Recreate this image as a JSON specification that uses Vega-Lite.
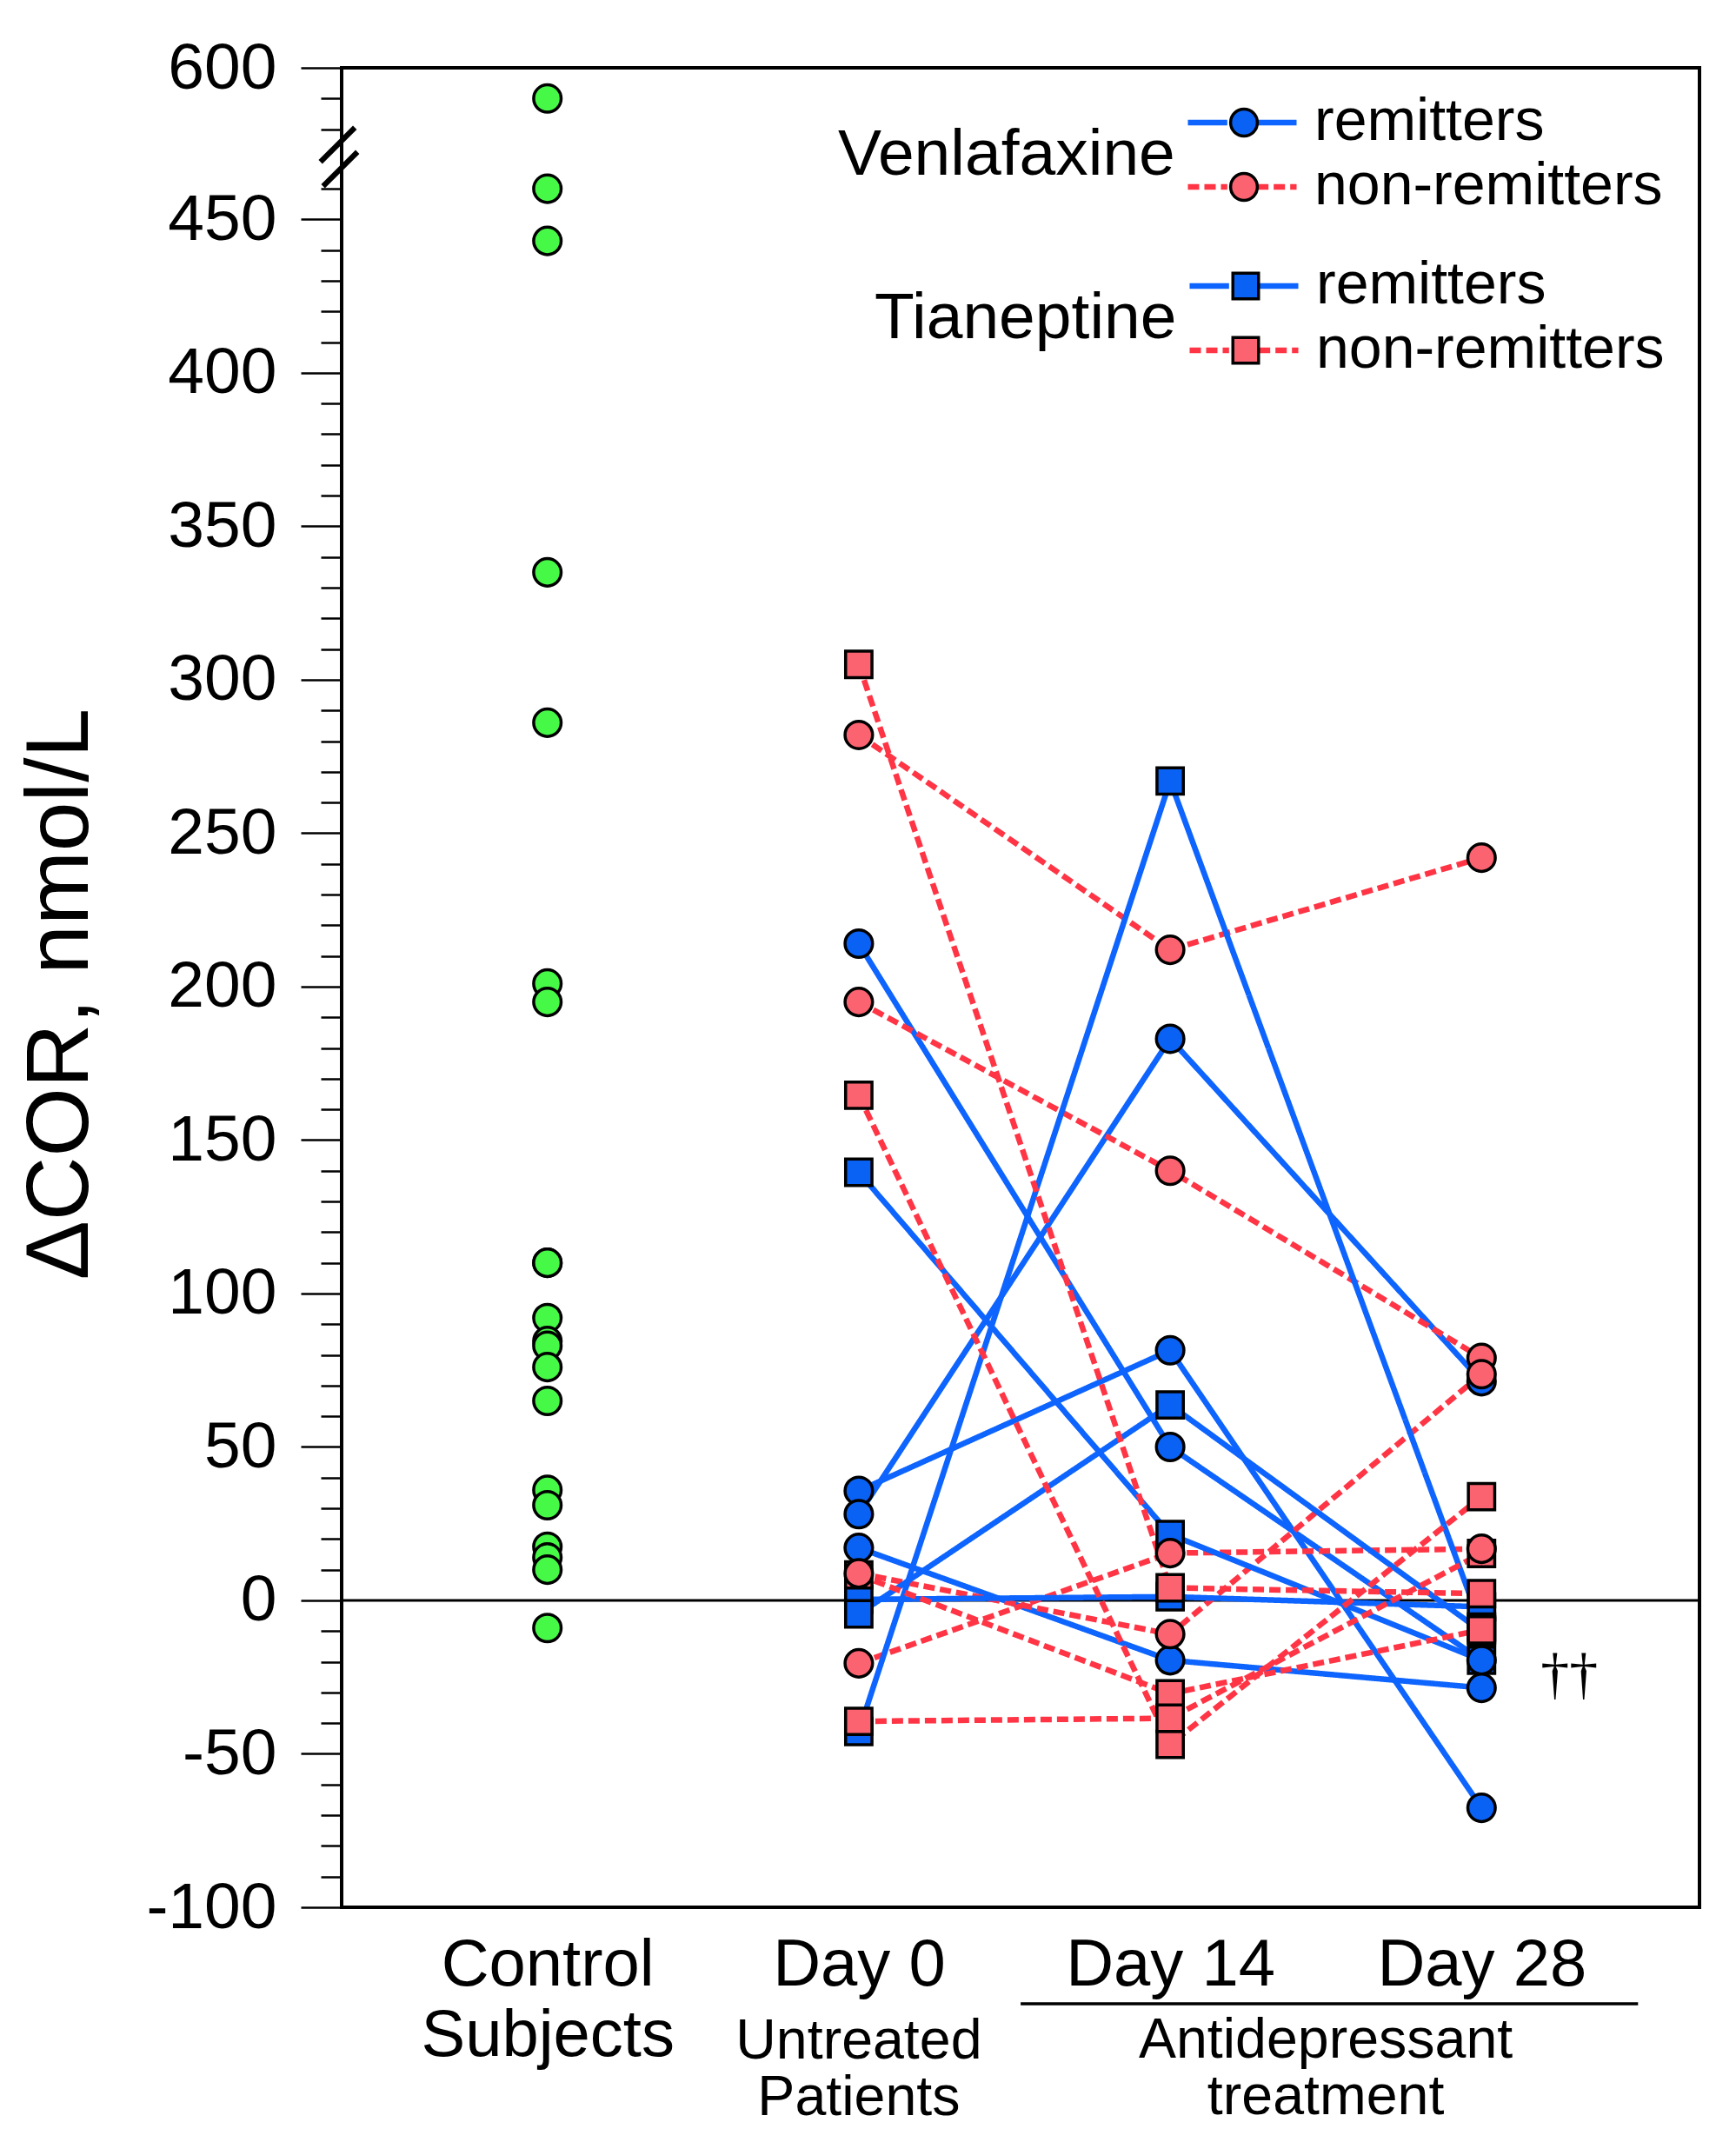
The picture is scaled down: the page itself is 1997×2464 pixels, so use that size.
{
  "$schema": "https://vega.github.io/schema/vega-lite/v6.json",
  "autosize": {"type": "none"},
  "width": 1562,
  "height": 2116,
  "padding": {"left": 393, "top": 78, "right": 42, "bottom": 270},
  "background": "white",
  "datasets": {
    "control": [
      {"visit": "Control Subjects", "value": 590},
      {"visit": "Control Subjects", "value": 460},
      {"visit": "Control Subjects", "value": 443},
      {"visit": "Control Subjects", "value": 335},
      {"visit": "Control Subjects", "value": 286},
      {"visit": "Control Subjects", "value": 201},
      {"visit": "Control Subjects", "value": 195},
      {"visit": "Control Subjects", "value": 110},
      {"visit": "Control Subjects", "value": 110},
      {"visit": "Control Subjects", "value": 92},
      {"visit": "Control Subjects", "value": 84.5},
      {"visit": "Control Subjects", "value": 83},
      {"visit": "Control Subjects", "value": 76},
      {"visit": "Control Subjects", "value": 65},
      {"visit": "Control Subjects", "value": 36},
      {"visit": "Control Subjects", "value": 31},
      {"visit": "Control Subjects", "value": 17.5},
      {"visit": "Control Subjects", "value": 14},
      {"visit": "Control Subjects", "value": 10},
      {"visit": "Control Subjects", "value": -9}
    ],
    "patients": [
      {"subject": "V-R1", "drug": "Venlafaxine", "status": "remitters", "visit": "Day 0", "value": 214},
      {"subject": "V-R1", "drug": "Venlafaxine", "status": "remitters", "visit": "Day 14", "value": 50},
      {"subject": "V-R1", "drug": "Venlafaxine", "status": "remitters", "visit": "Day 28", "value": -19.5},
      {"subject": "V-R2", "drug": "Venlafaxine", "status": "remitters", "visit": "Day 0", "value": 35.7},
      {"subject": "V-R2", "drug": "Venlafaxine", "status": "remitters", "visit": "Day 14", "value": 81.5},
      {"subject": "V-R2", "drug": "Venlafaxine", "status": "remitters", "visit": "Day 28", "value": -67.6},
      {"subject": "V-R3", "drug": "Venlafaxine", "status": "remitters", "visit": "Day 0", "value": 28.1},
      {"subject": "V-R3", "drug": "Venlafaxine", "status": "remitters", "visit": "Day 14", "value": 183},
      {"subject": "V-R3", "drug": "Venlafaxine", "status": "remitters", "visit": "Day 28", "value": 71.4},
      {"subject": "V-R4", "drug": "Venlafaxine", "status": "remitters", "visit": "Day 0", "value": 17.1},
      {"subject": "V-R4", "drug": "Venlafaxine", "status": "remitters", "visit": "Day 14", "value": -19.5},
      {"subject": "V-R4", "drug": "Venlafaxine", "status": "remitters", "visit": "Day 28", "value": -28.5},
      {"subject": "V-N1", "drug": "Venlafaxine", "status": "non-remitters", "visit": "Day 0", "value": 282},
      {"subject": "V-N1", "drug": "Venlafaxine", "status": "non-remitters", "visit": "Day 14", "value": 212},
      {"subject": "V-N1", "drug": "Venlafaxine", "status": "non-remitters", "visit": "Day 28", "value": 242},
      {"subject": "V-N2", "drug": "Venlafaxine", "status": "non-remitters", "visit": "Day 0", "value": 195},
      {"subject": "V-N2", "drug": "Venlafaxine", "status": "non-remitters", "visit": "Day 14", "value": 140},
      {"subject": "V-N2", "drug": "Venlafaxine", "status": "non-remitters", "visit": "Day 28", "value": 79},
      {"subject": "V-N3", "drug": "Venlafaxine", "status": "non-remitters", "visit": "Day 0", "value": -20.5},
      {"subject": "V-N3", "drug": "Venlafaxine", "status": "non-remitters", "visit": "Day 14", "value": 15.4},
      {"subject": "V-N3", "drug": "Venlafaxine", "status": "non-remitters", "visit": "Day 28", "value": 16.8},
      {"subject": "V-N4", "drug": "Venlafaxine", "status": "non-remitters", "visit": "Day 0", "value": 8.8},
      {"subject": "V-N4", "drug": "Venlafaxine", "status": "non-remitters", "visit": "Day 14", "value": -11},
      {"subject": "V-N4", "drug": "Venlafaxine", "status": "non-remitters", "visit": "Day 28", "value": 73.7},
      {"subject": "T-R1", "drug": "Tianeptine", "status": "remitters", "visit": "Day 0", "value": 139.5},
      {"subject": "T-R1", "drug": "Tianeptine", "status": "remitters", "visit": "Day 14", "value": 21.5},
      {"subject": "T-R1", "drug": "Tianeptine", "status": "remitters", "visit": "Day 28", "value": -19.5},
      {"subject": "T-R2", "drug": "Tianeptine", "status": "remitters", "visit": "Day 0", "value": 0.3},
      {"subject": "T-R2", "drug": "Tianeptine", "status": "remitters", "visit": "Day 14", "value": 1.2},
      {"subject": "T-R2", "drug": "Tianeptine", "status": "remitters", "visit": "Day 28", "value": -2.1},
      {"subject": "T-R3", "drug": "Tianeptine", "status": "remitters", "visit": "Day 0", "value": -4.4},
      {"subject": "T-R3", "drug": "Tianeptine", "status": "remitters", "visit": "Day 14", "value": 63.7},
      {"subject": "T-R3", "drug": "Tianeptine", "status": "remitters", "visit": "Day 28", "value": -10.1},
      {"subject": "T-R4", "drug": "Tianeptine", "status": "remitters", "visit": "Day 0", "value": -42.7},
      {"subject": "T-R4", "drug": "Tianeptine", "status": "remitters", "visit": "Day 14", "value": 267},
      {"subject": "T-R4", "drug": "Tianeptine", "status": "remitters", "visit": "Day 28", "value": -8.7},
      {"subject": "T-N1", "drug": "Tianeptine", "status": "non-remitters", "visit": "Day 0", "value": 305},
      {"subject": "T-N1", "drug": "Tianeptine", "status": "non-remitters", "visit": "Day 14", "value": 4.1},
      {"subject": "T-N1", "drug": "Tianeptine", "status": "non-remitters", "visit": "Day 28", "value": 2.2},
      {"subject": "T-N2", "drug": "Tianeptine", "status": "non-remitters", "visit": "Day 0", "value": 164.6},
      {"subject": "T-N2", "drug": "Tianeptine", "status": "non-remitters", "visit": "Day 14", "value": -46.9},
      {"subject": "T-N2", "drug": "Tianeptine", "status": "non-remitters", "visit": "Day 28", "value": 33.8},
      {"subject": "T-N3", "drug": "Tianeptine", "status": "non-remitters", "visit": "Day 0", "value": 8.3},
      {"subject": "T-N3", "drug": "Tianeptine", "status": "non-remitters", "visit": "Day 14", "value": -30.4},
      {"subject": "T-N3", "drug": "Tianeptine", "status": "non-remitters", "visit": "Day 28", "value": -9.6},
      {"subject": "T-N4", "drug": "Tianeptine", "status": "non-remitters", "visit": "Day 0", "value": -39.4},
      {"subject": "T-N4", "drug": "Tianeptine", "status": "non-remitters", "visit": "Day 14", "value": -38.4},
      {"subject": "T-N4", "drug": "Tianeptine", "status": "non-remitters", "visit": "Day 28", "value": 15.3}
    ]
  },
  "layer": [
    {
      "data": {"name": "control"},
      "mark": {"type": "point", "shape": "circle", "filled": true, "fill": "#47f947", "stroke": "black", "strokeWidth": 3.5, "size": 1000, "opacity": 1},
      "encoding": {
        "x": {"field": "visit", "type": "nominal", "scale": {"type": "point", "domain": ["Control Subjects", "Day 0", "Day 14", "Day 28"], "range": [236.7, 1311.3], "padding": 0},
          "axis": {"title": null, "ticks": false, "tickSize": 0, "domain": false, "grid": false, "labelAngle": 0, "labelFontSize": 76, "labelFont": "Liberation Sans", "labelColor": "black", "labelPadding": 29, "labelBaseline": "top", "labelLineHeight": 81, "labelLimit": 2000, "labelOverlap": false, "labelExpr": "datum.value === 'Control Subjects' ? ['Control', 'Subjects'] : datum.label"}},
        "y": {"field": "value", "type": "quantitative", "scale": {"domain": [-100, 470.5, 571.1, 600], "range": [2116, 102, 102, 0], "nice": false, "zero": false},
          "axis": {
            "values": [-100, -90, -80, -70, -60, -50, -40, -30, -20, -10, 0, 10, 20, 30, 40, 50, 60, 70, 80, 90, 100, 110, 120, 130, 140, 150, 160, 170, 180, 190, 200, 210, 220, 230, 240, 250, 260, 270, 280, 290, 300, 310, 320, 330, 340, 350, 360, 370, 380, 390, 400, 410, 420, 430, 440, 450, 460, 580, 590, 600],
            "tickCount": 200,
            "labelExpr": "((datum.value % 50 === 0) && datum.value <= 450) || datum.value === 600 ? '' + datum.value : ''",
            "tickSize": {"condition": {"test": "datum.value % 50 === 0", "value": 47}, "value": 24},
            "tickWidth": 2.5, "tickColor": "black", "domain": false, "grid": false,
            "labelFontSize": 75, "labelFont": "Liberation Sans", "labelColor": "black", "labelPadding": 28, "labelFlush": false, "labelOverlap": false, "labelBound": false,
            "title": "ΔCOR, nmol/L", "titleFontSize": 102, "titleFont": "Liberation Sans", "titleFontWeight": "normal", "titleColor": "black",
            "titleX": -293, "titleY": 1065, "titleAngle": 270, "titleAlign": "center", "titleBaseline": "alphabetic"
          }}
      }
    },
    {
      "data": {"values": [{}]},
      "mark": {"type": "rule", "color": "black", "strokeWidth": 3},
      "encoding": {
        "y": {"datum": 0, "type": "quantitative", "scale": {"domain": [-100, 470.5, 571.1, 600], "range": [2116, 102, 102, 0], "nice": false, "zero": false}}
      }
    },
    {
      "data": {"name": "patients"},
      "transform": [{"filter": "datum.drug === 'Venlafaxine'"}],
      "mark": {"type": "line", "strokeWidth": 6.5, "strokeCap": "butt"},
      "encoding": {
        "x": {"field": "visit", "type": "nominal", "scale": {"type": "point", "domain": ["Control Subjects", "Day 0", "Day 14", "Day 28"], "range": [236.7, 1311.3], "padding": 0}},
        "y": {"field": "value", "type": "quantitative", "scale": {"domain": [-100, 470.5, 571.1, 600], "range": [2116, 102, 102, 0], "nice": false, "zero": false}},
        "detail": {"field": "subject"},
        "stroke": {"field": "status", "type": "nominal", "scale": {"domain": ["remitters", "non-remitters"], "range": ["#0d64ff", "#ff3545"]},
          "legend": {"title": "Venlafaxine", "orient": "none", "legendX": 571, "legendY": 29, "titleOrient": "left", "titleAnchor": "middle", "titleBaseline": "middle", "titleFontSize": 75, "titleFont": "Liberation Sans", "titleFontWeight": "normal", "titleColor": "black", "titlePadding": 43, "titleLimit": 0, "symbolType": "M-4,0H-1.1M1.1,0H4", "symbolSize": 977, "symbolStrokeWidth": 6.5, "labelFontSize": 68, "labelFont": "Liberation Sans", "labelColor": "black", "labelOffset": 49, "rowPadding": 6, "padding": 0, "labelLimit": 0}},
        "strokeDash": {"field": "status", "type": "nominal", "scale": {"domain": ["remitters", "non-remitters"], "range": [[1, 0], [13, 6]]},
          "legend": {"title": "Venlafaxine", "orient": "none", "legendX": 571, "legendY": 29, "titleOrient": "left", "titleAnchor": "middle", "titleBaseline": "middle", "titleFontSize": 75, "titleFont": "Liberation Sans", "titleFontWeight": "normal", "titleColor": "black", "titlePadding": 43, "titleLimit": 0, "symbolType": "M-4,0H-1.1M1.1,0H4", "symbolSize": 977, "symbolStrokeWidth": 6.5, "labelFontSize": 68, "labelFont": "Liberation Sans", "labelColor": "black", "labelOffset": 49, "rowPadding": 6, "padding": 0, "labelLimit": 0}}
      }
    },
    {
      "data": {"name": "patients"},
      "transform": [{"filter": "datum.drug === 'Tianeptine'"}],
      "mark": {"type": "line", "strokeWidth": 6.5, "strokeCap": "butt"},
      "encoding": {
        "x": {"field": "visit", "type": "nominal", "scale": {"type": "point", "domain": ["Control Subjects", "Day 0", "Day 14", "Day 28"], "range": [236.7, 1311.3], "padding": 0}},
        "y": {"field": "value", "type": "quantitative", "scale": {"domain": [-100, 470.5, 571.1, 600], "range": [2116, 102, 102, 0], "nice": false, "zero": false}},
        "detail": {"field": "subject"},
        "stroke": {"field": "status", "type": "nominal", "scale": {"domain": ["remitters", "non-remitters"], "range": ["#0d64ff", "#ff3545"]},
          "legend": {"title": "Tianeptine", "orient": "none", "legendX": 613, "legendY": 217, "titleOrient": "left", "titleAnchor": "middle", "titleBaseline": "middle", "titleFontSize": 75, "titleFont": "Liberation Sans", "titleFontWeight": "normal", "titleColor": "black", "titlePadding": 43, "titleLimit": 0, "symbolType": "M-4,0H-1.1M1.1,0H4", "symbolSize": 977, "symbolStrokeWidth": 6.5, "labelFontSize": 68, "labelFont": "Liberation Sans", "labelColor": "black", "labelOffset": 49, "rowPadding": 6, "padding": 0, "labelLimit": 0}},
        "strokeDash": {"field": "status", "type": "nominal", "scale": {"domain": ["remitters", "non-remitters"], "range": [[1, 0], [13, 6]]},
          "legend": {"title": "Tianeptine", "orient": "none", "legendX": 613, "legendY": 217, "titleOrient": "left", "titleAnchor": "middle", "titleBaseline": "middle", "titleFontSize": 75, "titleFont": "Liberation Sans", "titleFontWeight": "normal", "titleColor": "black", "titlePadding": 43, "titleLimit": 0, "symbolType": "M-4,0H-1.1M1.1,0H4", "symbolSize": 977, "symbolStrokeWidth": 6.5, "labelFontSize": 68, "labelFont": "Liberation Sans", "labelColor": "black", "labelOffset": 49, "rowPadding": 6, "padding": 0, "labelLimit": 0}}
      }
    },
    {
      "data": {"name": "patients"},
      "transform": [{"filter": "datum.drug === 'Tianeptine'"}],
      "mark": {"type": "point", "shape": "square", "filled": true, "stroke": "black", "strokeWidth": 3.5, "size": 920, "opacity": 1},
      "encoding": {
        "x": {"field": "visit", "type": "nominal", "scale": {"type": "point", "domain": ["Control Subjects", "Day 0", "Day 14", "Day 28"], "range": [236.7, 1311.3], "padding": 0}},
        "y": {"field": "value", "type": "quantitative", "scale": {"domain": [-100, 470.5, 571.1, 600], "range": [2116, 102, 102, 0], "nice": false, "zero": false}},
        "fill": {"field": "status", "type": "nominal", "scale": {"domain": ["remitters", "non-remitters"], "range": ["#0a62f5", "#fb6370"]},
          "legend": {"title": "Tianeptine", "orient": "none", "legendX": 615, "legendY": 217, "titleOrient": "left", "titleAnchor": "middle", "titleBaseline": "middle", "titleFontSize": 75, "titleFont": "Liberation Sans", "titleFontWeight": "normal", "titleOpacity": 0, "titlePadding": 43, "titleLimit": 0, "symbolType": "square", "symbolSize": 870, "symbolStrokeWidth": 3.5, "symbolStrokeColor": "black", "symbolOpacity": 1, "labelFontSize": 68, "labelFont": "Liberation Sans", "labelOpacity": 0, "labelOffset": 49, "rowPadding": 6, "padding": 0, "labelLimit": 0}}
      }
    },
    {
      "data": {"name": "patients"},
      "transform": [{"filter": "datum.drug === 'Venlafaxine'"}],
      "mark": {"type": "point", "shape": "circle", "filled": true, "stroke": "black", "strokeWidth": 3.5, "size": 1000, "opacity": 1},
      "encoding": {
        "x": {"field": "visit", "type": "nominal", "scale": {"type": "point", "domain": ["Control Subjects", "Day 0", "Day 14", "Day 28"], "range": [236.7, 1311.3], "padding": 0}},
        "y": {"field": "value", "type": "quantitative", "scale": {"domain": [-100, 470.5, 571.1, 600], "range": [2116, 102, 102, 0], "nice": false, "zero": false}},
        "fill": {"field": "status", "type": "nominal", "scale": {"domain": ["remitters", "non-remitters"], "range": ["#0a62f5", "#fb6370"]},
          "legend": {"title": "Venlafaxine", "orient": "none", "legendX": 573, "legendY": 29, "titleOrient": "left", "titleAnchor": "middle", "titleBaseline": "middle", "titleFontSize": 75, "titleFont": "Liberation Sans", "titleFontWeight": "normal", "titleOpacity": 0, "titlePadding": 43, "titleLimit": 0, "symbolType": "circle", "symbolSize": 950, "symbolStrokeWidth": 3.5, "symbolStrokeColor": "black", "symbolOpacity": 1, "labelFontSize": 68, "labelFont": "Liberation Sans", "labelOpacity": 0, "labelOffset": 49, "rowPadding": 6, "padding": 0, "labelLimit": 0}}
      }
    },
    {
      "data": {"values": [{}]},
      "mark": {"type": "text", "text": ["Untreated", "Patients"], "font": "Liberation Sans", "fontSize": 64.5, "lineHeight": 65, "align": "center", "baseline": "alphabetic", "dy": 174, "color": "black"},
      "encoding": {
        "x": {"datum": "Day 0", "type": "nominal", "scale": {"type": "point", "domain": ["Control Subjects", "Day 0", "Day 14", "Day 28"], "range": [236.7, 1311.3], "padding": 0}},
        "y": {"datum": -100, "type": "quantitative", "scale": {"domain": [-100, 470.5, 571.1, 600], "range": [2116, 102, 102, 0], "nice": false, "zero": false}}
      }
    },
    {
      "data": {"values": [{}]},
      "mark": {"type": "text", "text": ["Antidepressant", "treatment"], "font": "Liberation Sans", "fontSize": 64.5, "lineHeight": 65, "align": "center", "baseline": "alphabetic", "dx": 179, "dy": 173, "color": "black"},
      "encoding": {
        "x": {"datum": "Day 14", "type": "nominal", "scale": {"type": "point", "domain": ["Control Subjects", "Day 0", "Day 14", "Day 28"], "range": [236.7, 1311.3], "padding": 0}},
        "y": {"datum": -100, "type": "quantitative", "scale": {"domain": [-100, 470.5, 571.1, 600], "range": [2116, 102, 102, 0], "nice": false, "zero": false}}
      }
    },
    {
      "data": {"values": [{}]},
      "mark": {"type": "rule", "color": "black", "strokeWidth": 3.5, "xOffset": -172, "x2Offset": 180, "yOffset": 111},
      "encoding": {
        "x": {"datum": "Day 14", "type": "nominal", "scale": {"type": "point", "domain": ["Control Subjects", "Day 0", "Day 14", "Day 28"], "range": [236.7, 1311.3], "padding": 0}},
        "x2": {"datum": "Day 28"},
        "y": {"datum": -100, "type": "quantitative", "scale": {"domain": [-100, 470.5, 571.1, 600], "range": [2116, 102, 102, 0], "nice": false, "zero": false}}
      }
    },
    {
      "data": {"values": [{}]},
      "mark": {"type": "text", "text": "††", "font": "Liberation Serif", "fontSize": 66, "align": "center", "baseline": "middle", "dx": 101, "color": "black"},
      "encoding": {
        "x": {"datum": "Day 28", "type": "nominal", "scale": {"type": "point", "domain": ["Control Subjects", "Day 0", "Day 14", "Day 28"], "range": [236.7, 1311.3], "padding": 0}},
        "y": {"datum": -24.4, "type": "quantitative", "scale": {"domain": [-100, 470.5, 571.1, 600], "range": [2116, 102, 102, 0], "nice": false, "zero": false}}
      }
    },
    {
      "data": {"values": [{}]},
      "mark": {"type": "text", "text": "|", "font": "DejaVu Sans", "fontSize": 56, "align": "center", "baseline": "middle", "angle": 45, "xOffset": -239.7, "yOffset": -15, "color": "black", "fontWeight": "bold"},
      "encoding": {
        "x": {"datum": "Control Subjects", "type": "nominal", "scale": {"type": "point", "domain": ["Control Subjects", "Day 0", "Day 14", "Day 28"], "range": [236.7, 1311.3], "padding": 0}},
        "y": {"datum": 470.5, "type": "quantitative", "scale": {"domain": [-100, 470.5, 571.1, 600], "range": [2116, 102, 102, 0], "nice": false, "zero": false}}
      }
    },
    {
      "data": {"values": [{}]},
      "mark": {"type": "text", "text": "|", "font": "DejaVu Sans", "fontSize": 56, "align": "center", "baseline": "middle", "angle": 45, "xOffset": -236.7, "yOffset": 13, "color": "black", "fontWeight": "bold"},
      "encoding": {
        "x": {"datum": "Control Subjects", "type": "nominal", "scale": {"type": "point", "domain": ["Control Subjects", "Day 0", "Day 14", "Day 28"], "range": [236.7, 1311.3], "padding": 0}},
        "y": {"datum": 470.5, "type": "quantitative", "scale": {"domain": [-100, 470.5, 571.1, 600], "range": [2116, 102, 102, 0], "nice": false, "zero": false}}
      }
    }
  ],
  "resolve": {
    "scale": {"stroke": "independent", "strokeDash": "independent", "fill": "independent"},
    "legend": {"stroke": "independent", "strokeDash": "independent", "fill": "independent"}
  },
  "config": {
    "view": {"stroke": "black", "strokeWidth": 4},
    "font": "Liberation Sans"
  }
}
